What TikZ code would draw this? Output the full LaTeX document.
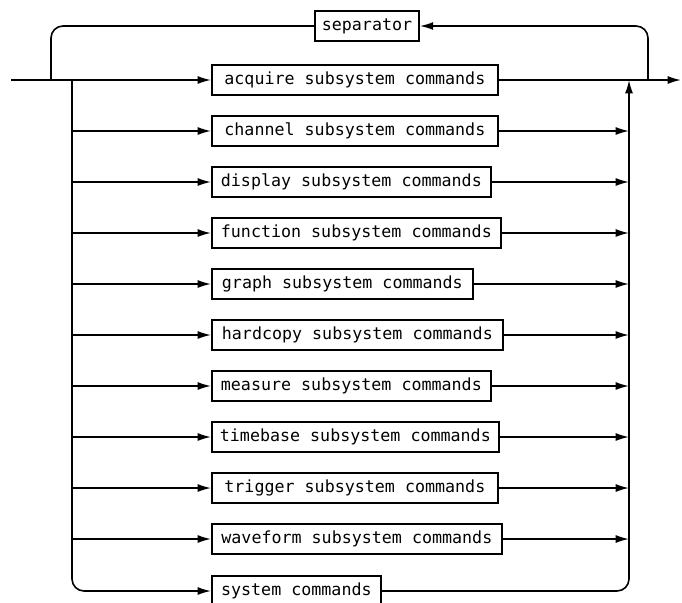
\documentclass[tikz,border=0pt]{standalone}
\usepackage{fontspec}
\setmonofont{DejaVu Sans Mono}
\usetikzlibrary{arrows.meta}
\tikzset{
  cmdbox/.style={draw,line width=1.3pt,anchor=west,minimum height=22pt,inner sep=2pt,
    font=\ttfamily\fontsize{12.5}{14}\selectfont},
  flow/.style={line width=1.2pt,-{Latex[length=10pt,width=6pt]}},
  plain/.style={line width=1.2pt}
}
\begin{document}
\begin{tikzpicture}[x=0.75pt,y=-0.75pt]
  \useasboundingbox (0,0) rectangle (682,603);
  \node[cmdbox,anchor=center,minimum width=78pt] (sep) at (367,26) {separator};
  \foreach \nm/\txt/\y/\r in {acq/acquire subsystem commands/80/497,
      chan/channel subsystem commands/131/497, disp/display subsystem commands/182/490,
      func/function subsystem commands/233/500, graph/graph subsystem commands/284/472,
      hcopy/hardcopy subsystem commands/335/502, meas/measure subsystem commands/386/490,
      tbase/timebase subsystem commands/437/498, trig/trigger subsystem commands/488/497,
      wave/waveform subsystem commands/539/501, sys/system commands/591/380} {
    \pgfmathsetmacro{\w}{(\r-211)*0.75}
    \node[cmdbox,minimum width=\w pt] (\nm) at (211,\y) {\txt};
  }
  \coordinate (in) at (11,80);
  \coordinate (out) at (681,80);
  \coordinate (ll) at (51,80);
  \coordinate (lr) at (648,80);
  \coordinate (jl) at (72,80);
  \coordinate (jr) at (629,80);
  \draw[flow] (in) -- (acq.west);
  \draw[flow] (acq.east) -- (out);
  \draw[plain,rounded corners=9pt] (ll) |- (sep.west);
  \draw[flow,rounded corners=9pt] (lr) |- (sep.east);
  \foreach \nm in {chan,disp,func,graph,hcopy,meas,tbase,trig,wave} {
    \draw[flow] (jl |- \nm.west) -- (\nm.west);
    \draw[flow] (\nm.east) -- (jr |- \nm.east);
  }
  \draw[flow,rounded corners=9pt] (jl) |- (sys.west);
  \draw[flow,rounded corners=9pt] (sys.east) -| (jr);
\end{tikzpicture}
\end{document}
